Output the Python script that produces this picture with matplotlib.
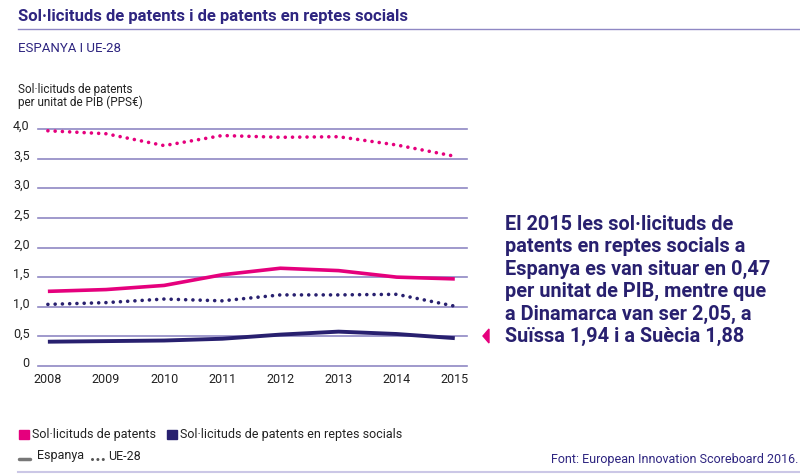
import matplotlib
matplotlib.use('Agg')
import matplotlib.pyplot as plt
from matplotlib.lines import Line2D
from matplotlib.patches import Rectangle, Polygon
from matplotlib.transforms import ScaledTranslation

plt.rcParams['font.family'] = ['Roboto', 'DejaVu Sans']

# dades
years = [2008, 2009, 2010, 2011, 2012, 2013, 2014, 2015]
year_labels = ['2008', '2009', '2010', '2011', '2012', '2013', '2014', '2015']
patents_es = [1.26, 1.29, 1.36, 1.54, 1.65, 1.61, 1.50, 1.47]
patents_ue = [3.97, 3.92, 3.72, 3.89, 3.86, 3.87, 3.73, 3.54]
social_es = [0.41, 0.42, 0.43, 0.46, 0.53, 0.58, 0.54, 0.47]
social_ue = [1.04, 1.07, 1.13, 1.10, 1.20, 1.20, 1.21, 1.01]
y_ticks = [0, 0.5, 1.0, 1.5, 2.0, 2.5, 3.0, 3.5, 4.0]
y_labels = ['0', '0,5', '1,0', '1,5', '2,0', '2,5', '3,0', '3,5', '4,0']

PINK = '#e5007d'
NAVY = '#28206f'
GRID = '#8f88c4'
TXT_NAVY = '#2e2580'

W, H = 800, 476
fig = plt.figure(figsize=(W / 100, H / 100), dpi=100)


def fx(px):
    return px / W


def fy(py):
    return 1 - py / H


ax = fig.add_axes([fx(38), fy(366), fx(467 - 38), (366 - 129) / H])
ax.set_xlim(2007.83, 2015.21)
ax.set_ylim(0, 4)
for s in ax.spines.values():
    s.set_visible(False)

for v in y_ticks:
    ax.axhline(v, color=GRID, lw=1.2, zorder=1, clip_on=False)

dots = dict(linestyle=(0, (0.01, 2.0)), dash_capstyle='round', lw=2.6, zorder=3, clip_on=False)
ax.plot(years, patents_ue, color=PINK, **dots)
ax.plot(years, social_ue, color=NAVY, **dots)
ax.plot(years, patents_es, color=PINK, lw=2.6, solid_capstyle='butt', zorder=3)
ax.plot(years, social_es, color=NAVY, lw=2.8, solid_capstyle='butt', zorder=3)

ax.set_xticks(years)
ax.set_xticklabels(year_labels, fontsize=9, color='#222222')
ax.set_yticks(y_ticks)
ax.set_yticklabels(y_labels, fontsize=9, color='#222222')
ax.tick_params(axis='x', length=0, pad=5)
ax.tick_params(axis='y', length=0, pad=6)
for lab in ax.get_yticklabels():
    lab.set_transform(lab.get_transform() + ScaledTranslation(0, 0.04, fig.dpi_scale_trans))

# títol i capçalera
fig.text(fx(18), fy(17), 'Sol·licituds de patents i de patents en reptes socials',
         fontsize=12.0, fontweight='bold', color=TXT_NAVY, va='center')
fig.add_artist(Line2D([fx(18), 1], [fy(29), fy(29)], color=GRID, lw=1))
fig.text(fx(18), fy(48), 'ESPANYA I UE-28', fontsize=9.5, color=TXT_NAVY, va='center')
fig.text(fx(18), fy(96), 'Sol·licituds de patents\nper unitat de PIB (PPS€)',
         fontsize=8.5, color='#222222', va='center', linespacing=1.0)

# text destacat
fig.text(fx(505), fy(280.5),
         'El 2015 les sol·licituds de\npatents en reptes socials a\nEspanya es van situar en 0,47\n'
         'per unitat de PIB, mentre que\na Dinamarca van ser 2,05, a\nSuïssa 1,94 i a Suècia 1,88',
         fontsize=14.3, fontweight='bold', color=NAVY, va='center', linespacing=1.23)
fig.add_artist(Polygon([[fx(483), fy(336)], [fx(489), fy(329)], [fx(489), fy(343)]],
                       closed=True, color=PINK))

# llegenda
fig.add_artist(Rectangle((fx(19), fy(439)), fx(10), 9 / H, color=PINK))
fig.text(fx(32), fy(434.5), 'Sol·licituds de patents', fontsize=9, color='#222222', va='center')
fig.add_artist(Rectangle((fx(167), fy(439)), fx(10), 9 / H, color=NAVY))
fig.text(fx(180), fy(434.5), 'Sol·licituds de patents en reptes socials', fontsize=9,
         color='#222222', va='center')
fig.add_artist(Line2D([fx(19), fx(30)], [fy(459), fy(459)], color='#777777', lw=2.5,
                      solid_capstyle='round'))
fig.text(fx(37), fy(456), 'Espanya', fontsize=9, color='#222222', va='center')
fig.add_artist(Line2D([fx(92), fx(103)], [fy(459), fy(459)], color='#555555', lw=2.2,
                      linestyle=(0, (0.01, 1.75)), dash_capstyle='round'))
fig.text(fx(108), fy(456), 'UE-28', fontsize=9, color='#222222', va='center')

fig.text(fx(798), fy(459), 'Font: European Innovation Scoreboard 2016.', fontsize=9,
         color=TXT_NAVY, va='center', ha='right')
fig.add_artist(Line2D([fx(18), 1], [fy(472), fy(472)], color='#cbc7e6', lw=1.5))

fig.savefig('out.png', dpi=100)
